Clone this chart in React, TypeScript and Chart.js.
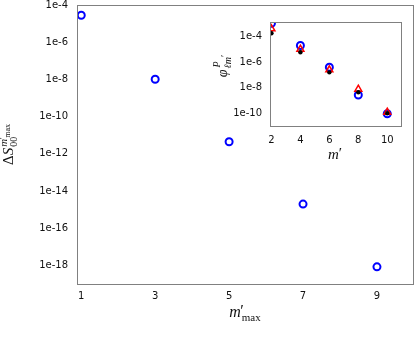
import React, { useEffect, useRef } from "react";
import { Chart, registerables } from "chart.js";

Chart.register(...registerables);

// ---- data ----
const mainX = [1, 3, 5, 7, 9];
const mainY = [3.0e-5, 1.05e-8, 4.5e-12, 1.95e-15, 8e-19];
const mainXTicks = [1, 3, 5, 7, 9];
const mainYTicks = [1e-4, 1e-6, 1e-8, 1e-10, 1e-12, 1e-14, 1e-16, 1e-18];

const insetX = [2, 4, 6, 8, 10];
const insetCircles = [1.0e-3, 1.9e-5, 4.0e-7, 2.8e-9, 1.0e-10];
const insetTriangles = [3.7e-4, 1.0e-5, 2.5e-7, 8.0e-9, 1.3e-10];
const insetDots = [1.7e-4, 5.8e-6, 1.6e-7, 4.6e-9, 1.1e-10];
const insetXTicks = [2, 4, 6, 8, 10];
const insetYTicks = [1e-4, 1e-6, 1e-8, 1e-10];

const SERIF = '"Liberation Serif", "DejaVu Serif", serif';
const SANS = '"DejaVu Sans", sans-serif';
const FRAME = "#808080";
const TEXT = "#111";

const logLabel = (v: any) => "1e" + Math.round(Math.log10(Number(v)));

function pts(xs: number[], ys: number[]) {
  return xs.map((x, i) => ({ x, y: ys[i] }));
}

type Piece = [string, string, number, number];

function drawPieces(
  ctx: CanvasRenderingContext2D,
  pieces: Piece[],
  total: number,
  cx: number,
  cy: number,
  rotate: boolean
) {
  ctx.save();
  ctx.translate(cx, cy);
  if (rotate) ctx.rotate(-Math.PI / 2);
  ctx.fillStyle = TEXT;
  ctx.textAlign = "left";
  ctx.textBaseline = "alphabetic";
  for (const [f, t, x, dy] of pieces) {
    ctx.font = f;
    ctx.fillText(t, x - total / 2, dy);
  }
  ctx.restore();
}

function measure(ctx: CanvasRenderingContext2D, f: string, t: string) {
  ctx.font = f;
  return ctx.measureText(t).width;
}

function drawMainYTitle(ctx: CanvasRenderingContext2D, cx: number, cy: number) {
  const fBig = `15px ${SERIF}`;
  const fBigI = `italic 15px ${SERIF}`;
  const fSup = `italic 11px ${SERIF}`;
  const fSupR = `11px ${SERIF}`;
  const fSS = `8px ${SERIF}`;
  const fSub = `10px ${SERIF}`;
  const wD = measure(ctx, fBig, "Δ");
  const wS = measure(ctx, fBigI, "S");
  const wm = measure(ctx, fSup, "m");
  const wmax = measure(ctx, fSS, "max");
  const w00 = measure(ctx, fSub, "00");
  const xs = wD + wS + 1;
  const total = xs + Math.max(wm + wmax + 1, w00);
  const pieces: Piece[] = [
    [fBig, "Δ", 0, 0],
    [fBigI, "S", wD, 0],
    [fSup, "m", xs, -6],
    [fSupR, "′", xs + wm - 0.5, -7],
    [fSS, "max", xs + wm + 1, -3],
    [fSub, "00", xs, 4],
  ];
  drawPieces(ctx, pieces, total, cx, cy, true);
}

function drawMainXTitle(ctx: CanvasRenderingContext2D, cx: number, cy: number) {
  const fI = `italic 16px ${SERIF}`;
  const fP = `16px ${SERIF}`;
  const fSub = `11px ${SERIF}`;
  const wm = measure(ctx, fI, "m");
  const wmax = measure(ctx, fSub, "max");
  const total = wm + wmax + 1;
  const pieces: Piece[] = [
    [fI, "m", 0, 0],
    [fP, "′", wm - 0.5, -1],
    [fSub, "max", wm + 1, 4],
  ];
  drawPieces(ctx, pieces, total, cx, cy, false);
}

function drawInsetXTitle(ctx: CanvasRenderingContext2D, cx: number, cy: number) {
  const fI = `italic 15px ${SERIF}`;
  const fP = `15px ${SERIF}`;
  const wm = measure(ctx, fI, "m");
  const wp = measure(ctx, fP, "′");
  const total = wm + wp;
  const pieces: Piece[] = [
    [fI, "m", 0, 0],
    [fP, "′", wm, -1],
  ];
  drawPieces(ctx, pieces, total, cx, cy, false);
}

function drawInsetYTitle(ctx: CanvasRenderingContext2D, cx: number, cy: number) {
  const fI = `italic 14px ${SERIF}`;
  const fSup = `italic 10px ${SERIF}`;
  const fSub = `italic 10px ${SERIF}`;
  const fSubR = `10px ${SERIF}`;
  const wphi = measure(ctx, fI, "φ");
  const wP = measure(ctx, fSup, "P");
  const wl = measure(ctx, fSub, "ℓm");
  const wp = measure(ctx, fSubR, "′");
  const xs = wphi + 1;
  const total = xs + Math.max(wP, wl + wp);
  const pieces: Piece[] = [
    [fI, "φ", 0, 0],
    [fSup, "P", xs + 1, -7],
    [fSub, "ℓm", xs, 4],
    [fSubR, "′", xs + wl, 1],
  ];
  drawPieces(ctx, pieces, total, cx, cy, true);
}

const framePlugin = {
  id: "frame",
  beforeDraw(chart: any) {
    const a = chart.chartArea;
    const ctx = chart.ctx as CanvasRenderingContext2D;
    ctx.save();
    ctx.fillStyle = "#ffffff";
    ctx.fillRect(a.left, a.top, a.right - a.left, a.bottom - a.top);
    ctx.restore();
  },
  afterDraw(chart: any) {
    const a = chart.chartArea;
    const ctx = chart.ctx as CanvasRenderingContext2D;
    ctx.save();
    ctx.strokeStyle = FRAME;
    ctx.lineWidth = 1;
    ctx.strokeRect(a.left + 0.5, a.top + 0.5, a.right - a.left, a.bottom - a.top);
    ctx.restore();
  },
};

function axisOpts(
  type: "linear" | "logarithmic",
  min: number,
  max: number,
  ticks: number[],
  padding: number,
  cb: (v: any) => string,
  size: number,
  horizontal: boolean
) {
  return {
    type,
    min,
    max,
    grid: { display: false, drawTicks: false },
    border: { display: false },
    afterBuildTicks: (s: any) => {
      s.ticks = ticks.map((v) => ({ value: v }));
    },
    afterFit: (s: any) => {
      if (horizontal) s.height = size;
      else s.width = size;
      s.paddingTop = 0;
      s.paddingBottom = 0;
      s.paddingLeft = 0;
      s.paddingRight = 0;
    },
    ticks: {
      font: { family: SANS, size: 10 },
      color: TEXT,
      padding,
      autoSkip: false,
      maxRotation: 0,
      minRotation: 0,
      callback: cb,
    },
  };
}

export default function App() {
  const mainRef = useRef<HTMLCanvasElement>(null);
  const insetRef = useRef<HTMLCanvasElement>(null);

  useEffect(() => {
    const mainTitles = {
      id: "mainTitles",
      afterDraw(chart: any) {
        const ctx = chart.ctx as CanvasRenderingContext2D;
        drawMainYTitle(ctx, 13, 144.5);
        drawMainXTitle(ctx, 245, 317);
      },
    };
    const insetTitles = {
      id: "insetTitles",
      afterDraw(chart: any) {
        const ctx = chart.ctx as CanvasRenderingContext2D;
        drawInsetYTitle(ctx, 27, 56);
        drawInsetXTitle(ctx, 135, 148.5);
      },
    };

    const main = new Chart(mainRef.current!, {
      type: "scatter",
      data: {
        datasets: [
          {
            data: pts(mainX, mainY),
            showLine: false,
            pointStyle: "circle",
            pointRadius: 3.5,
            pointHoverRadius: 3.5,
            pointBorderWidth: 2,
            pointBorderColor: "#0000ff",
            pointBackgroundColor: "rgba(0,0,0,0)",
          },
        ],
      },
      options: {
        responsive: false,
        animation: false,
        events: [],
        layout: { autoPadding: false, padding: { top: 5, right: 2, left: 0, bottom: 0 } },
        plugins: { legend: { display: false }, tooltip: { enabled: false } },
        scales: {
          x: axisOpts("linear", 0.885, 9.975, mainXTicks, 6, (v) => String(v), 57, true) as any,
          y: axisOpts("logarithmic", 9.5e-20, 1.07e-4, mainYTicks, 9, logLabel, 77, false) as any,
        },
      },
      plugins: [framePlugin, mainTitles],
    });

    const inset = new Chart(insetRef.current!, {
      type: "scatter",
      data: {
        datasets: [
          {
            data: pts(insetX, insetDots),
            showLine: false,
            clip: 0,
            pointStyle: "circle",
            pointRadius: 2.2,
            pointHoverRadius: 2.2,
            pointBorderWidth: 0,
            pointBackgroundColor: "#000000",
            pointBorderColor: "#000000",
          },
          {
            data: pts(insetX, insetTriangles),
            showLine: false,
            clip: 0,
            pointStyle: "triangle",
            pointRadius: 4,
            pointHoverRadius: 4,
            pointBorderWidth: 1.5,
            pointBorderColor: "#ff0000",
            pointBackgroundColor: "rgba(0,0,0,0)",
          },
          {
            data: pts(insetX, insetCircles),
            showLine: false,
            clip: 0,
            pointStyle: "circle",
            pointRadius: 3.5,
            pointHoverRadius: 3.5,
            pointBorderWidth: 2,
            pointBorderColor: "#0000ff",
            pointBackgroundColor: "rgba(0,0,0,0)",
          },
        ],
      },
      options: {
        responsive: false,
        animation: false,
        events: [],
        layout: { autoPadding: false, padding: { top: 12, right: 9, left: 0, bottom: 0 } },
        plugins: { legend: { display: false }, tooltip: { enabled: false } },
        scales: {
          x: axisOpts("linear", 1.9, 10.95, insetXTicks, 8, (v) => String(v), 49, true) as any,
          y: axisOpts("logarithmic", 1.12e-11, 1.26e-3, insetYTicks, 8, logLabel, 70, false) as any,
        },
      },
      plugins: [framePlugin, insetTitles],
    });

    return () => {
      main.destroy();
      inset.destroy();
    };
  }, []);

  return (
    <div
      style={{
        position: "absolute",
        left: 0,
        top: 0,
        width: 415,
        height: 341,
        background: "#ffffff",
        overflow: "hidden",
      }}
    >
      <canvas
        ref={mainRef}
        width={415}
        height={341}
        style={{ position: "absolute", left: 0, top: 0, width: 415, height: 341 }}
      />
      <canvas
        ref={insetRef}
        width={210}
        height={165}
        style={{ position: "absolute", left: 200, top: 10, width: 210, height: 165 }}
      />
    </div>
  );
}
